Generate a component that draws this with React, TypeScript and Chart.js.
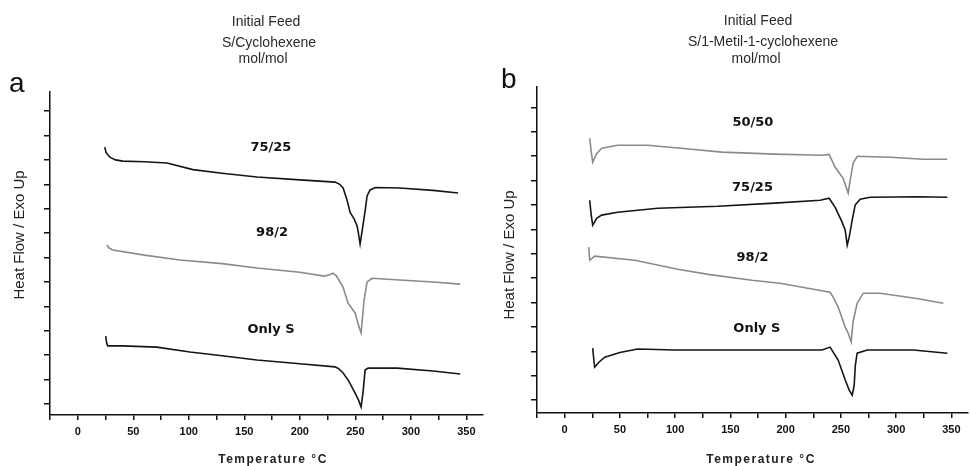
import React, { useEffect, useRef } from 'react';
import { Chart, registerables } from 'chart.js';

Chart.register(...registerables);

// ---------- shared text ----------
const yAxisTitle = 'Heat Flow / Exo Up';
const xAxisTitle = 'Temperature °C';
const xMin = -25;
const xMax = 365;
const xStep = 25;
const xLabelStep = 50;

// ---------- panel a : S/Cyclohexene ----------
const titleA = ['Initial Feed', 'S/Cyclohexene', 'mol/mol'];
const a7525T = [24.3, 25.5, 28.9, 34, 40.6, 60, 80.3, 103.7, 130, 161.4, 200, 231.7, 236, 239, 242.6, 245.3, 248.9, 251.6, 252.5, 254.3, 256.1, 258.8, 260.6, 263.3, 268, 290, 320, 342.6];
const a7525V = [10.52, 10.3, 10.11, 10.0, 9.95, 9.92, 9.87, 9.6, 9.45, 9.3, 9.18, 9.09, 9.0, 8.85, 8.35, 7.85, 7.58, 7.29, 7.08, 6.55, 7.08, 7.9, 8.52, 8.77, 8.87, 8.85, 8.75, 8.64];
const a982T = [26.1, 28, 31.6, 60, 92, 130, 161.4, 200, 222, 226, 229.9, 233, 238.9, 243.5, 249.8, 253.4, 255.2, 257.9, 260.6, 265.1, 290, 320, 344.5];
const a982V = [6.51, 6.4, 6.31, 6.1, 5.9, 5.75, 5.57, 5.4, 5.24, 5.28, 5.36, 5.25, 4.79, 4.13, 3.73, 3.15, 2.91, 4.26, 5.0, 5.15, 5.08, 5.0, 4.91];
const aST = [25.2, 26, 27, 40.6, 71.2, 101, 130, 161.4, 200, 231.7, 235, 239, 244, 249.8, 253, 255.2, 257, 258.8, 261.5, 287.6, 320, 344.5];
const aSV = [2.78, 2.5, 2.38, 2.38, 2.33, 2.13, 1.98, 1.8, 1.65, 1.52, 1.45, 1.27, 0.95, 0.45, 0.15, -0.12, 0.5, 1.39, 1.47, 1.47, 1.35, 1.23];
const aLabels = ['75/25', '98/2', 'Only S'];
const aLabelT = [174, 175, 174];
const aLabelV = [10.5, 7.04, 3.03];
const aYMin = -0.45;
const aYMax = 12.78;

// ---------- panel b : S/1-Metil-1-cyclohexene ----------
const titleB = ['Initial Feed', 'S/1-Metil-1-cyclohexene', 'mol/mol'];
const b5050T = [22.7, 24, 25.4, 29, 33.5, 48, 75.2, 110, 142.3, 190, 233.9, 239.3, 244.8, 252, 255.7, 256.6, 258.4, 261.1, 264.8, 294.7, 324.6, 346.3];
const b5050V = [10.73, 10.2, 9.75, 10.1, 10.32, 10.44, 10.44, 10.3, 10.16, 10.08, 10.03, 10.07, 9.54, 9.09, 8.6, 8.48, 9.01, 9.71, 9.99, 9.95, 9.87, 9.87];
const b7525T = [22.7, 24, 25.4, 29, 33.5, 48, 84.3, 138.7, 190, 231.2, 239.3, 244.8, 251.1, 253.9, 255.7, 257.5, 260.2, 262.9, 267.4, 276.5, 320, 346.3];
const b7525V = [8.19, 7.6, 7.17, 7.45, 7.58, 7.7, 7.86, 7.94, 8.07, 8.19, 8.27, 7.9, 7.29, 6.96, 6.35, 6.68, 7.37, 7.99, 8.23, 8.31, 8.33, 8.31];
const b982T = [21.8, 22.7, 27.2, 63.5, 102.4, 130, 169.5, 194.9, 240.2, 243, 247.5, 253.9, 256.6, 259.3, 261, 264.7, 270.2, 285.6, 320, 342.7];
const b982V = [6.27, 5.73, 5.9, 5.73, 5.36, 5.15, 4.91, 4.79, 4.42, 4.22, 3.81, 2.99, 2.74, 2.38, 3.2, 3.97, 4.38, 4.38, 4.15, 3.97];
const bST = [25.4, 26.5, 27.2, 31, 36.3, 50, 66.2, 99.7, 150, 200, 233, 240.2, 247.5, 253.9, 257.5, 260.2, 262, 263, 264.7, 273.8, 315.5, 346.3];
const bSV = [2.13, 1.6, 1.35, 1.55, 1.76, 1.95, 2.09, 2.05, 2.05, 2.05, 2.05, 2.17, 1.64, 0.82, 0.41, 0.2, 0.6, 1.4, 1.92, 2.05, 2.05, 1.92];
const bLabels = ['50/50', '75/25', '98/2', 'Only S'];
const bLabelT = [170.4, 170, 170, 174];
const bLabelV = [11.36, 8.7, 5.84, 2.91];
const bYMin = -0.53;
const bYMax = 12.83;

const BLACK = '#151515';
const GRAY = '#8a8a8a';
const SANS = '"Liberation Sans", Arial, sans-serif';

type Series = { T: number[]; V: number[]; color: string };

type PanelCfg = {
  letter: string;
  letterX: number;
  letterY: number;
  title: string[];
  titleX: number[];
  titleY: number[];
  yTitleX: number;
  yTitleY: number;
  xTitleX: number;
  xTitleY: number;
  series: Series[];
  labels: string[];
  labelT: number[];
  labelV: number[];
  yMin: number;
  yMax: number;
  padTop: number;
  yW: number;
  xH: number;
};

function textPlugin(cfg: PanelCfg) {
  return {
    id: 'panelTexts',
    afterDraw(chart: any) {
      const ctx: CanvasRenderingContext2D = chart.ctx;
      const xs = chart.scales.x;
      const ys = chart.scales.y;
      ctx.save();
      // panel letter
      ctx.fillStyle = '#111';
      ctx.font = `28px ${SANS}`;
      ctx.textAlign = 'left';
      ctx.textBaseline = 'alphabetic';
      ctx.fillText(cfg.letter, cfg.letterX, cfg.letterY);
      // title
      ctx.fillStyle = '#2a2a2a';
      ctx.font = `14px ${SANS}`;
      ctx.textAlign = 'center';
      ctx.textBaseline = 'middle';
      cfg.title.forEach((t, i) => ctx.fillText(t, cfg.titleX[i], cfg.titleY[i]));
      // y axis title
      ctx.save();
      ctx.translate(cfg.yTitleX, cfg.yTitleY);
      ctx.rotate(-Math.PI / 2);
      ctx.font = `15px ${SANS}`;
      ctx.fillStyle = '#222';
      ctx.fillText(yAxisTitle, 0, 0);
      ctx.restore();
      // x axis title
      ctx.save();
      ctx.font = `bold 12px ${SANS}`;
      (ctx as any).letterSpacing = '1.5px';
      ctx.fillStyle = '#222';
      ctx.fillText(xAxisTitle, cfg.xTitleX, cfg.xTitleY);
      ctx.restore();
      // curve labels
      ctx.font = `bold 13px "DejaVu Sans", ${SANS}`;
      ctx.fillStyle = '#111';
      cfg.labels.forEach((l, i) => {
        ctx.fillText(l, xs.getPixelForValue(cfg.labelT[i]), ys.getPixelForValue(cfg.labelV[i]));
      });
      ctx.restore();
    },
  };
}

function Panel({ left, cfg }: { left: number; cfg: PanelCfg }) {
  const ref = useRef<HTMLCanvasElement>(null);
  useEffect(() => {
    const canvas = ref.current!;
    const chart = new Chart(canvas, {
      type: 'line',
      data: {
        datasets: cfg.series.map((s) => ({
          data: s.T.map((t, i) => ({ x: t, y: s.V[i] })),
          borderColor: s.color,
          backgroundColor: s.color,
          borderWidth: 1.6,
          pointRadius: 0,
          tension: 0,
          fill: false,
        })),
      },
      options: {
        animation: false,
        responsive: false,
        maintainAspectRatio: false,
        devicePixelRatio: 1,
        layout: { padding: { top: cfg.padTop, right: 2, left: 0, bottom: 0 } },
        plugins: {
          legend: { display: false },
          tooltip: { enabled: false },
          title: { display: false },
        },
        scales: {
          x: {
            type: 'linear',
            min: xMin,
            max: xMax,
            afterFit: (s: any) => {
              s.height = cfg.xH;
            },
            grid: {
              display: true,
              drawOnChartArea: false,
              drawTicks: true,
              tickLength: 5,
              color: '#111',
              lineWidth: 1.5,
            },
            border: { display: true, color: '#111', width: 1.5 },
            ticks: {
              stepSize: xStep,
              autoSkip: false,
              includeBounds: false,
              maxRotation: 0,
              minRotation: 0,
              maxTicksLimit: 100,
              padding: 5,
              color: '#111',
              font: { family: 'Liberation Sans', weight: 'bold', size: 11 },
              callback: (v: any) => {
                const n = Number(v);
                return n >= 0 && n % xLabelStep === 0 ? String(n) : '';
              },
            },
          },
          y: {
            type: 'linear',
            min: cfg.yMin,
            max: cfg.yMax,
            afterFit: (s: any) => {
              s.width = cfg.yW;
            },
            grid: {
              display: true,
              drawOnChartArea: false,
              drawTicks: true,
              tickLength: 6,
              color: '#111',
              lineWidth: 1.5,
            },
            border: { display: true, color: '#111', width: 1.5 },
            ticks: {
              stepSize: 1,
              includeBounds: false,
              maxTicksLimit: 100,
              display: false,
            },
          },
        },
      } as any,
      plugins: [textPlugin(cfg)],
    });
    return () => chart.destroy();
  }, []);
  return (
    <div style={{ position: 'absolute', left, top: 0, width: 485, height: 466 }}>
      <canvas ref={ref} width={485} height={466} style={{ width: 485, height: 466, display: 'block' }} />
    </div>
  );
}

const cfgA: PanelCfg = {
  letter: 'a',
  letterX: 9,
  letterY: 92,
  title: titleA,
  titleX: [266, 269, 263],
  titleY: [22, 43, 59],
  yTitleX: 20,
  yTitleY: 235,
  xTitleX: 273,
  xTitleY: 460,
  series: [
    { T: a7525T, V: a7525V, color: BLACK },
    { T: a982T, V: a982V, color: GRAY },
    { T: aST, V: aSV, color: BLACK },
  ],
  labels: aLabels,
  labelT: aLabelT,
  labelV: aLabelV,
  yMin: aYMin,
  yMax: aYMax,
  padTop: 92,
  yW: 50,
  xH: 51,
};

const cfgB: PanelCfg = {
  letter: 'b',
  letterX: 16,
  letterY: 88,
  title: titleB,
  titleX: [273, 278, 271],
  titleY: [21, 42, 59],
  yTitleX: 25,
  yTitleY: 255,
  xTitleX: 276,
  xTitleY: 460,
  series: [
    { T: b5050T, V: b5050V, color: GRAY },
    { T: b7525T, V: b7525V, color: BLACK },
    { T: b982T, V: b982V, color: GRAY },
    { T: bST, V: bSV, color: BLACK },
  ],
  labels: bLabels,
  labelT: bLabelT,
  labelV: bLabelV,
  yMin: bYMin,
  yMax: bYMax,
  padTop: 87,
  yW: 52,
  xH: 53,
};

export default function App() {
  return (
    <div style={{ position: 'fixed', left: 0, top: 0, width: 970, height: 466, background: '#fff', overflow: 'hidden' }}>
      <Panel left={0} cfg={cfgA} />
      <Panel left={485} cfg={cfgB} />
    </div>
  );
}
